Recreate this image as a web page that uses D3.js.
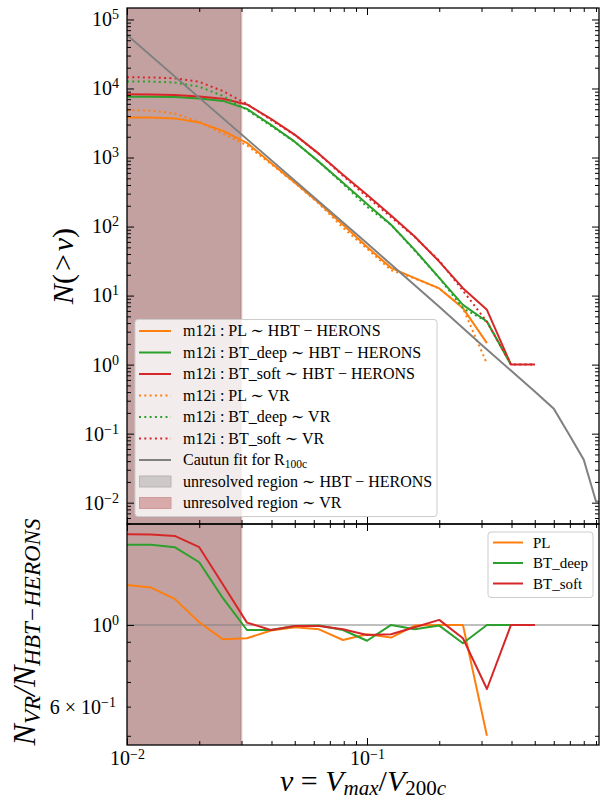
<!DOCTYPE html>
<html><head><meta charset="utf-8">
<script src="https://cdn.jsdelivr.net/npm/d3@7"></script>
<style>
body{margin:0;background:#fff}
svg{display:block}
text{font-family:"Liberation Serif","DejaVu Serif",serif;fill:#000}
</style></head>
<body><svg id="c" width="600" height="804"></svg>
<script>
// ---------------- data ----------------
const nu = [0.01,0.0126,0.0158,0.02,0.0251,0.0316,0.0398,0.0501,0.0631,0.0794,0.1,0.126,0.158,0.2,0.251,0.316,0.398,0.501];
// N(>nu) HBT-HERONS
const plHBT   = [3790,3790,3690,3226,2430,1630,836,430,220,106,50.8,25.2,17.9,12.7,6.59,2.05];
const deepHBT = [7625,7625,7500,7180,6607,5060,2970,1684,865,430,213,106,46,18.1,7.35,4.21,1];
const softHBT = [8260,8205,8070,7680,7110,5880,3625,2127,1129,561,288,145,71.7,31.1,12.8,6.22,1,1];
// N(>nu) VR
const plVR   = [4866,4787,4343,3281,2221,1500,808,425,214,96.5,47.9,23.3,17.8,12.7,6.59,1.03];
const deepVR = [12580,12580,12200,10630,7810,4900,2880,1674,862,417,193,106,44.8,18.0,6.56,4.21,1];
const softVR = [14570,14440,14080,12490,9160,5965,3513,2114,1122,546,270,137,70.7,32.1,11.8,4.17,1,1];
// Cautun fit
const cautunNu = [0.01,0.1,0.2,0.3,0.4,0.5,0.6,0.7,0.8,0.9,1.0];
const cautunN  = [59700,57.1,6.87,1.94,0.807,0.408,0.23,0.093,0.042,0.0104,0.0104];
// ratios N_VR / N_HBT
const ratioPL   = [1.284,1.263,1.177,1.017,0.914,0.920,0.966,0.986,0.973,0.910,0.943,0.924,0.996,1.0,1.0,0.5];
const ratioDeep = [1.650,1.650,1.626,1.480,1.182,0.969,0.969,0.994,0.996,0.969,0.906,1.0,0.973,0.996,0.892,1.0,1.0];
const ratioSoft = [1.764,1.760,1.745,1.626,1.288,1.0145,0.969,0.994,0.994,0.973,0.939,0.943,0.986,1.032,0.920,0.670,1.0,1.0];
const unresolved = [0.01, 0.03];
const xLimits = [0.01, 0.926];
const y1Limits = [0.00491, 146600];
const y2Limits = [0.472, 1.88];
const topMajorExp = [-2,-1,0,1,2,3,4,5];
const xMajorExp = [-2,-1];
const bottomYMajor = [1.0];
const bottomYMinor = [0.5,0.6,0.7,0.8,0.9];
const bottomYMinorLabels = {0.6:["6 × 10","−1"]};
const legendTop = ["m12i : PL ∼ HBT − HERONS","m12i : BT_deep ∼ HBT − HERONS","m12i : BT_soft ∼ HBT − HERONS",
  "m12i : PL ∼ VR","m12i : BT_deep ∼ VR","m12i : BT_soft ∼ VR","Cautun fit for R","unresolved region ∼ HBT − HERONS","unresolved region ∼ VR"];
const legendBottom = ["PL","BT_deep","BT_soft"];

// ---------------- drawing ----------------
const C = {pl:"#ff7f0e", deep:"#2ca02c", soft:"#d62728", gray:"#808080"};
const svg = d3.select("#c");
const L=127,R=599,T1=8,B1=524,T2=524,B2=745;
const x = d3.scaleLog().domain(xLimits).range([L,R]);
const y1 = d3.scaleLog().domain(y1Limits).range([B1,T1]);
const y2 = d3.scaleLog().domain(y2Limits).range([B2,T2]);

const defs = svg.append("defs");
defs.append("clipPath").attr("id","cp1").append("rect").attr("x",L).attr("y",T1).attr("width",R-L).attr("height",B1-T1);
defs.append("clipPath").attr("id","cp2").append("rect").attr("x",L).attr("y",T2).attr("width",R-L).attr("height",B2-T2);

function shade(top,bottom){
  svg.append("rect").attr("x",x(unresolved[0])).attr("y",top).attr("width",x(unresolved[1])-x(unresolved[0]))
    .attr("height",bottom-top).attr("fill","#c4a1a1");
  svg.append("line").attr("x1",x(unresolved[1])-0.5).attr("x2",x(unresolved[1])-0.5).attr("y1",top).attr("y2",bottom)
    .attr("stroke","#a88080").attr("stroke-width",1);
  svg.append("line").attr("x1",x(unresolved[1])+0.5).attr("x2",x(unresolved[1])+0.5).attr("y1",top).attr("y2",bottom)
    .attr("stroke","#ecd6d6").attr("stroke-width",1);
}
shade(T1,B1); shade(T2,B2);

const g1 = svg.append("g").attr("clip-path","url(#cp1)");
const line1 = d3.line().x(d=>x(d[0])).y(d=>y1(d[1]));
function pairs(xs,ys){return ys.map((v,i)=>[xs[i],v]);}
function draw1(vals,color,dash){
  g1.append("path").attr("d",line1(pairs(nu,vals))).attr("fill","none").attr("stroke",color)
    .attr("stroke-width",2).attr("stroke-dasharray",dash||null).attr("stroke-linejoin","round");
}
draw1(plHBT,C.pl); draw1(deepHBT,C.deep); draw1(softHBT,C.soft);
draw1(plVR,C.pl,"2,3.3"); draw1(deepVR,C.deep,"2,3.3"); draw1(softVR,C.soft,"2,3.3");
g1.append("path").attr("d",line1(pairs(cautunNu,cautunN))).attr("fill","none").attr("stroke",C.gray).attr("stroke-width",2);

const g2 = svg.append("g").attr("clip-path","url(#cp2)");
const line2 = d3.line().x(d=>x(d[0])).y(d=>y2(d[1]));
g2.append("line").attr("x1",L).attr("x2",R).attr("y1",y2(1)).attr("y2",y2(1)).attr("stroke","#808080").attr("stroke-opacity",0.5).attr("stroke-width",2);
function draw2(vals,color){
  g2.append("path").attr("d",line2(pairs(nu,vals))).attr("fill","none").attr("stroke",color).attr("stroke-width",2).attr("stroke-linejoin","round");
}
draw2(ratioPL,C.pl); draw2(ratioDeep,C.deep); draw2(ratioSoft,C.soft);

// ---------------- axes ----------------
const xMajor = xMajorExp.map(e=>10**e);
const xMinor = [];
[-2,-1].forEach(e=>{for(let m=2;m<=9;m++){const v=m*10**e; if(v<=xLimits[1]) xMinor.push(v);}});
const y1Major = topMajorExp.map(e=>10**e);
const y1Minor = [];
for(let e=-3;e<=5;e++){for(let m=2;m<=9;m++){const v=m*10**e; if(v>=y1Limits[0]&&v<=y1Limits[1]) y1Minor.push(v);}}

function axis(gen, scale, vals, size, tx, ty){
  const g = svg.append("g").attr("transform",`translate(${tx},${ty})`)
    .call(gen(scale).tickValues(vals).tickSize(-size).tickFormat(""));
  g.select(".domain").remove();
  g.selectAll(".tick line").attr("stroke","#000").attr("stroke-width",1);
  return g;
}
// top panel
axis(d3.axisBottom,x,xMajor,7,0,B1); axis(d3.axisBottom,x,xMinor,4,0,B1);
axis(d3.axisTop,x,xMajor,7,0,T1); axis(d3.axisTop,x,xMinor,4,0,T1);
axis(d3.axisRight,y1,y1Major,7,R,0); axis(d3.axisRight,y1,y1Minor,4,R,0);
axis(d3.axisLeft,y1,y1Minor,4,L,0);
const gy1 = svg.append("g").attr("transform",`translate(${L},0)`)
  .call(d3.axisLeft(y1).tickValues(y1Major).tickSize(-7).tickPadding(8).tickFormat(""));
gy1.select(".domain").remove();
gy1.selectAll(".tick line").attr("stroke","#000");
gy1.selectAll(".tick text").each(function(d,i){
  const t=d3.select(this).attr("font-size",20).attr("fill","#000");
  t.append("tspan").text("10");
  t.append("tspan").attr("dy","-0.5em").attr("font-size","14").text(String(topMajorExp[i]).replace("-","−"));
});
// bottom panel
axis(d3.axisTop,x,xMajor,7,0,T2); axis(d3.axisTop,x,xMinor,4,0,T2);
axis(d3.axisBottom,x,xMinor,4,0,B2);
const gx2 = svg.append("g").attr("transform",`translate(0,${B2})`)
  .call(d3.axisBottom(x).tickValues(xMajor).tickSize(-7).tickPadding(6).tickFormat(""));
gx2.select(".domain").remove();
gx2.selectAll(".tick line").attr("stroke","#000");
gx2.selectAll(".tick text").each(function(d,i){
  const t=d3.select(this).attr("font-size",20).attr("fill","#000");
  t.append("tspan").text("10");
  t.append("tspan").attr("dy","-0.45em").attr("font-size","14").text(String(xMajorExp[i]).replace("-","−"));
});
axis(d3.axisRight,y2,bottomYMajor,7,R,0); axis(d3.axisRight,y2,bottomYMinor,4,R,0);
const gy2 = svg.append("g").attr("transform",`translate(${L},0)`)
  .call(d3.axisLeft(y2).tickValues(bottomYMajor).tickSize(-7).tickPadding(8).tickFormat(""));
gy2.select(".domain").remove(); gy2.selectAll(".tick line").attr("stroke","#000");
gy2.selectAll(".tick text").each(function(){
  const t=d3.select(this).attr("font-size",20).attr("fill","#000");
  t.append("tspan").text("10"); t.append("tspan").attr("dy","-0.5em").attr("font-size","14").text("0");
});
const gy2m = svg.append("g").attr("transform",`translate(${L},0)`)
  .call(d3.axisLeft(y2).tickValues(bottomYMinor).tickSize(-4).tickPadding(11).tickFormat(""));
gy2m.select(".domain").remove(); gy2m.selectAll(".tick line").attr("stroke","#000");
gy2m.selectAll(".tick text").each(function(d){
  const lab = bottomYMinorLabels[d]; if(!lab) return;
  const t=d3.select(this).attr("font-size",20).attr("fill","#000");
  t.append("tspan").text(lab[0]); t.append("tspan").attr("dy","-0.5em").attr("font-size","14").text(lab[1]);
});

// spines
[[T1,B1],[T2,B2]].forEach(([a,b])=>{
  svg.append("rect").attr("x",L).attr("y",a).attr("width",R-L).attr("height",b-a).attr("fill","none").attr("stroke","#000").attr("stroke-width",1.3);
});

// ---------------- legends ----------------
const lt = svg.append("g");
lt.append("rect").attr("x",135).attr("y",319.5).attr("width",302).attr("height",197).attr("rx",3)
  .attr("fill","#fff").attr("fill-opacity",0.8).attr("stroke","#cccccc");
const styleTop = [
  {c:C.pl},{c:C.deep},{c:C.soft},{c:C.pl,d:"2,3.3"},{c:C.deep,d:"2,3.3"},{c:C.soft,d:"2,3.3"},{c:C.gray},
  {p:"#cdc9c9",ps:"#b9b3b3"},{p:"#d9aaaa",ps:"#cf9a9a"}];
legendTop.forEach((lab,i)=>{
  const yy = 331 + i*21.5;
  const s = styleTop[i];
  if(s.p){
    lt.append("rect").attr("x",139.5).attr("y",yy-5.5).attr("width",31.5).attr("height",11).attr("fill",s.p).attr("stroke",s.ps);
  } else {
    lt.append("line").attr("x1",139).attr("x2",171).attr("y1",yy).attr("y2",yy).attr("stroke",s.c).attr("stroke-width",2).attr("stroke-dasharray",s.d||null);
  }
  const t = lt.append("text").attr("x",183).attr("y",yy+5).attr("font-size",16);
  t.append("tspan").text(lab);
  if(i===6){ t.append("tspan").attr("dy",3).attr("font-size",11.5).text("100c"); }
});
const lb = svg.append("g");
lb.append("rect").attr("x",488).attr("y",532).attr("width",105).attr("height",65.5).attr("rx",3)
  .attr("fill","#fff").attr("fill-opacity",0.8).attr("stroke","#cccccc");
const colB=[C.pl,C.deep,C.soft];
legendBottom.forEach((lab,i)=>{
  const yy = 542.5 + i*20.5;
  lb.append("line").attr("x1",493).attr("x2",523).attr("y1",yy).attr("y2",yy).attr("stroke",colB[i]).attr("stroke-width",2);
  lb.append("text").attr("x",533).attr("y",yy+5).attr("font-size",15).text(lab);
});

// ---------------- axis labels ----------------
const yl1 = svg.append("text").attr("transform","translate(73,266) rotate(-90)").attr("text-anchor","middle").attr("font-size",30);
yl1.append("tspan").attr("font-style","italic").text("N");
yl1.append("tspan").text("(");
yl1.append("tspan").attr("dx",3).text(">");
yl1.append("tspan").attr("dx",3).attr("font-style","italic").text("ν");
yl1.append("tspan").text(")");

const yl2 = svg.append("text").attr("transform","translate(35,632) rotate(-90)").attr("text-anchor","middle").attr("font-size",32).attr("font-style","italic");
yl2.append("tspan").text("N");
yl2.append("tspan").attr("dy",5).attr("font-size",23).text("VR");
yl2.append("tspan").attr("dy",-5).text("/N");
yl2.append("tspan").attr("dy",5).attr("font-size",23).text("HBT−HERONS");

const xl = svg.append("text").attr("x",363).attr("y",791).attr("text-anchor","middle").attr("font-size",30);
xl.append("tspan").attr("font-style","italic").text("ν");
xl.append("tspan").text(" = ");
xl.append("tspan").attr("font-style","italic").text("V");
xl.append("tspan").attr("dy",4).attr("font-size",21).attr("font-style","italic").text("max");
xl.append("tspan").attr("dy",-4).text("/");
xl.append("tspan").attr("font-style","italic").text("V");
xl.append("tspan").attr("dy",4).attr("font-size",21).text("200");
xl.append("tspan").attr("font-size",21).attr("font-style","italic").text("c");
</script></body></html>
